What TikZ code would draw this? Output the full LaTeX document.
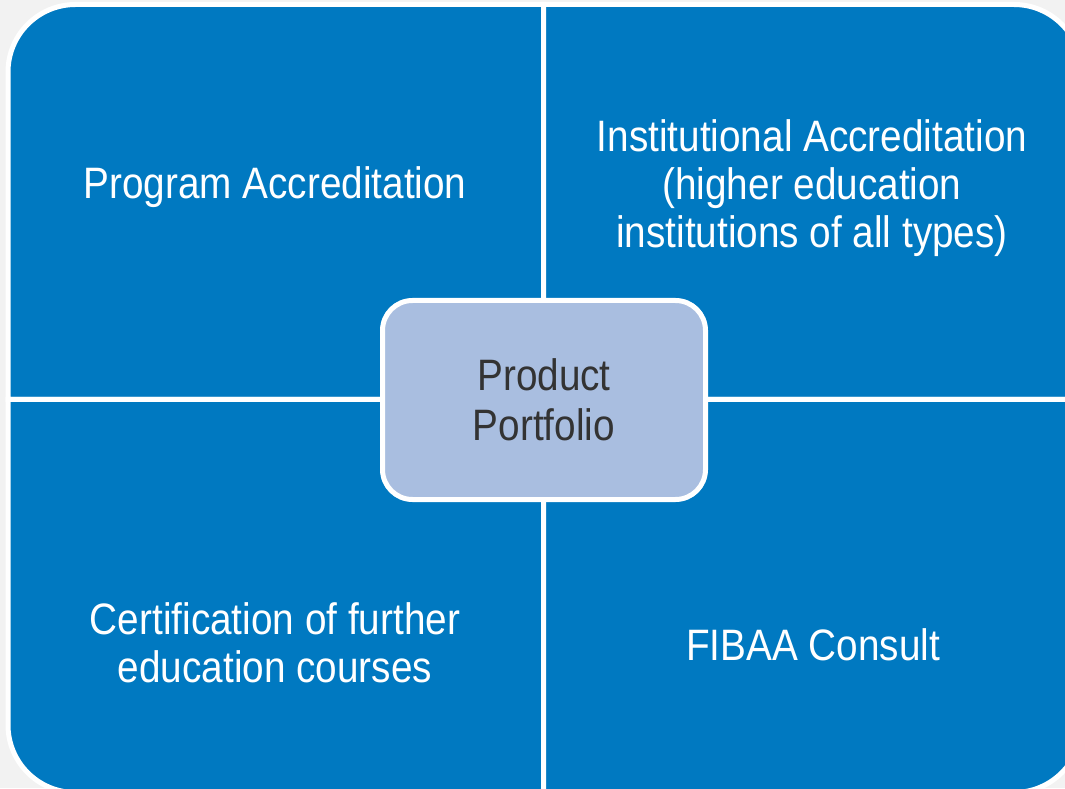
\documentclass[tikz,border=0pt]{standalone}
\usepackage{fontspec}
\newfontfamily\quadfont[FakeStretch=0.88]{Liberation Sans}
\usepackage{tikz}
\definecolor{fibaablue}{HTML}{0079C1}
\definecolor{hubfill}{HTML}{A9BEE0}
\definecolor{backgrey}{HTML}{F2F2F2}
\definecolor{hubtext}{HTML}{333333}

\begin{document}
\begin{tikzpicture}[x=1pt,y=1pt,
  quad/.style={fill=fibaablue,draw=white,line width=5pt},
  quadtext/.style={text=white,align=center,font=\quadfont\fontsize{44}{48}\selectfont},
  hub/.style={rectangle,rounded corners=30pt,fill=hubfill,draw=white,line width=5pt,
    minimum width=323pt,minimum height=199pt,text=hubtext,align=center,
    font=\quadfont\fontsize{44}{50}\selectfont}]
\useasboundingbox (0,0) rectangle (1065,788);
\fill[backgrey] (0,0) rectangle (1065,788);
% four quadrants, only the outer corner is rounded
\filldraw[quad] (543.5,388.5) -- (8,388.5) -- (8,716) arc[start angle=180,end angle=90,radius=67.5pt] -- (543.5,783.5) -- cycle;
\filldraw[quad] (543.5,388.5) -- (543.5,783.5) -- (1014,783.5) arc[start angle=90,end angle=0,radius=67.5pt] -- (1081.5,388.5) -- cycle;
\filldraw[quad] (543.5,388.5) -- (8,388.5) -- (8,63) arc[start angle=180,end angle=270,radius=67.5pt] -- (543.5,-4.5) -- cycle;
\filldraw[quad] (543.5,388.5) -- (1081.5,388.5) -- (1081.5,63) arc[start angle=0,end angle=-90,radius=67.5pt] -- (543.5,-4.5) -- cycle;
\node[quadtext,anchor=base] (program) at (275,589) {Program Accreditation};
\node[quadtext] (institutional) at (812,600) {Institutional Accreditation\\(higher education\\institutions of all types)};
\node[quadtext] (certification) at (275,145) {Certification of further\\education courses};
\node[quadtext,anchor=base] (consult) at (813,128) {FIBAA Consult};
\node[hub] (portfolio) at (544,388) {Product\\Portfolio};
\end{tikzpicture}
\end{document}
